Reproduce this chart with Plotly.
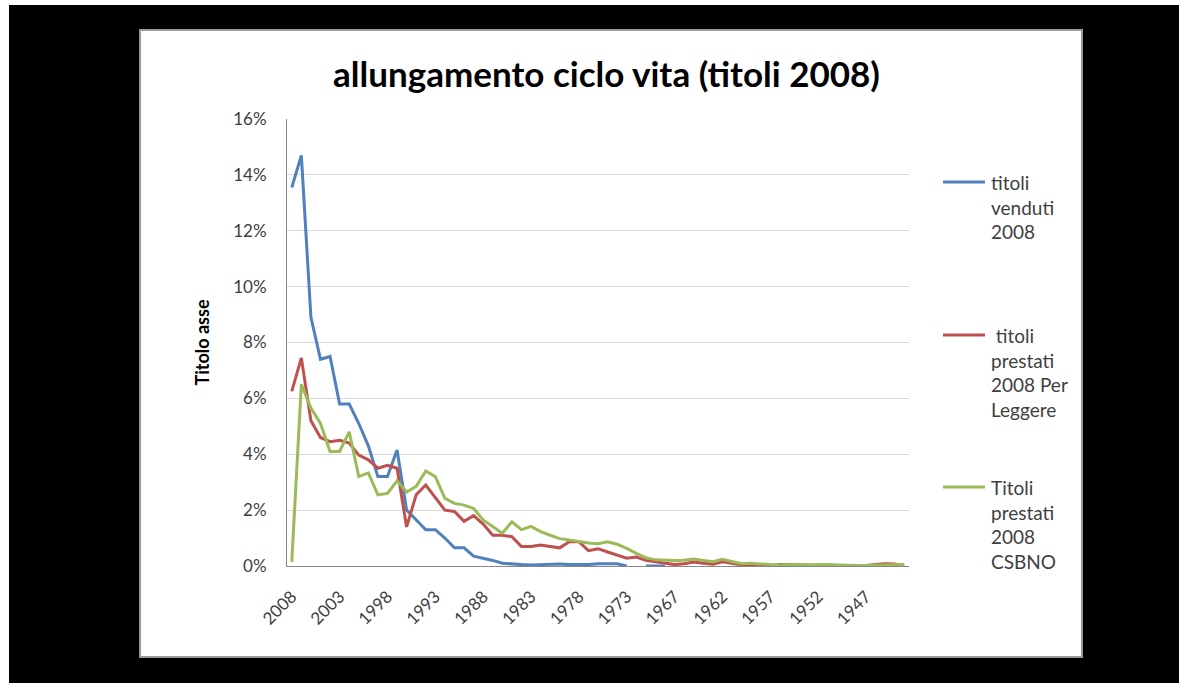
import plotly.graph_objects as go

# categories: publication years (1970 missing in the source sheet)
years = [str(y) for y in range(2008, 1970, -1)] + [str(y) for y in range(1969, 1942, -1)]

# share of titles per year, in percent
venduti = [13.55, 14.7, 8.9, 7.4, 7.5, 5.8, 5.8, 5.1, 4.3, 3.2,
           3.2, 4.15, 2.0, 1.65, 1.3, 1.3, 1.0, 0.65, 0.65, 0.35,
           0.28, 0.2, 0.1, 0.07, 0.05, 0.04, 0.05, 0.08, 0.07, 0.05,
           0.04, 0.05, 0.08, 0.09, 0.08, 0.0, None, 0.0, 0.0, 0.0] + [None] * 25

prestati_pl = [6.25, 7.45, 5.2, 4.6, 4.45, 4.5, 4.4, 3.97, 3.8, 3.5,
               3.6, 3.5, 1.4, 2.55, 2.9, 2.45, 2.0, 1.95, 1.6, 1.8,
               1.5, 1.1, 1.1, 1.05, 0.7, 0.7, 0.75, 0.7, 0.65, 0.87,
               0.87, 0.55, 0.62, 0.5, 0.4, 0.28, 0.32, 0.2, 0.15, 0.1,
               0.05, 0.08, 0.14, 0.1, 0.06, 0.15, 0.1, 0.04, 0.05, 0.03,
               0.0, 0.05, 0.05, 0.04, 0.05, 0.03, 0.02, 0.0, 0.02, 0.02,
               0.02, 0.05, 0.08, 0.07, 0.0]

prestati_csbno = [0.15, 6.5, 5.65, 5.1, 4.1, 4.1, 4.8, 3.2, 3.33, 2.55,
                  2.6, 3.05, 2.65, 2.85, 3.4, 3.2, 2.42, 2.24, 2.18, 2.06,
                  1.65, 1.4, 1.17, 1.58, 1.3, 1.42, 1.23, 1.1, 0.98, 0.93,
                  0.87, 0.82, 0.8, 0.87, 0.78, 0.63, 0.45, 0.3, 0.22, 0.2,
                  0.2, 0.21, 0.25, 0.2, 0.15, 0.24, 0.15, 0.08, 0.1, 0.07,
                  0.05, 0.04, 0.05, 0.05, 0.04, 0.05, 0.05, 0.04, 0.02, 0.02,
                  0.02, 0.03, 0.05, 0.04, 0.05]

series_names = ["titoli<br>venduti<br>2008",
                " titoli<br>prestati<br>2008 Per<br>Leggere",
                "Titoli<br>prestati<br>2008<br>CSBNO"]
colors = ["#4F81BD", "#C0504D", "#9BBB59"]

FONT = "Lato, 'Open Sans', sans-serif"

fig = go.Figure()
for vals, name, col in zip([venduti, prestati_pl, prestati_csbno], series_names, colors):
    fig.add_trace(go.Scatter(x=years, y=vals, mode="lines", name=name,
                             line=dict(color=col, width=3), connectgaps=False))

# white chart panel on black page
fig.add_shape(type="rect", xref="paper", yref="paper",
              x0=-0.2363, x1=1.2781, y0=-0.2036, y1=1.1991,
              fillcolor="white", line=dict(color="#9a9a9a", width=2), layer="below")

# legend (Excel style: key aligned with the first text line)
leg_y = [0.8591, 0.5168, 0.1767]
for name, col, ly in zip(series_names, colors, leg_y):
    fig.add_shape(type="line", xref="paper", yref="paper",
                  x0=1.0547, x1=1.1222, y0=ly, y1=ly,
                  line=dict(color=col, width=3))
    fig.add_annotation(text=name, xref="paper", yref="paper",
                       x=1.128, y=ly + 0.028, xanchor="left", yanchor="top",
                       align="left", showarrow=False,
                       font=dict(family=FONT, size=19, color="#404040"))

fig.update_layout(
    width=1170, height=678,
    margin=dict(l=278, r=270, t=114, b=117),
    paper_bgcolor="black",
    plot_bgcolor="white",
    showlegend=False,
    title=dict(text="<b>allungamento ciclo vita (titoli 2008)</b>",
               x=0.5137, xref="paper", xanchor="center",
               y=0.8968, yref="container", yanchor="middle",
               font=dict(family=FONT, size=35, color="black")),
    font=dict(family=FONT, color="#404040"),
)

fig.update_xaxes(type="category", range=[-0.5, len(years) - 0.5],
                 tickmode="array", tickvals=years[::5], ticktext=years[::5],
                 tickangle=-45, tickfont=dict(size=17, color="#404040"),
                 showgrid=False, showline=True, linecolor="#868686", linewidth=1,
                 ticks="", ticklabelstandoff=13)

fig.update_yaxes(range=[0, 16], dtick=2, ticksuffix="%",
                 tickfont=dict(size=17, color="#404040"),
                 showgrid=True, gridcolor="#d9d9d9", gridwidth=1,
                 showline=True, linecolor="#868686", linewidth=1, zeroline=False,
                 ticks="", ticklabelstandoff=16,
                 title=dict(text="<b>Titolo asse</b>", standoff=18,
                            font=dict(family=FONT, size=18, color="black")))

# page margin only on the left/top, as in the source screenshot
fig.write_html("out.html", post_script="document.body.style.margin = '5px 0 0 9px';")
